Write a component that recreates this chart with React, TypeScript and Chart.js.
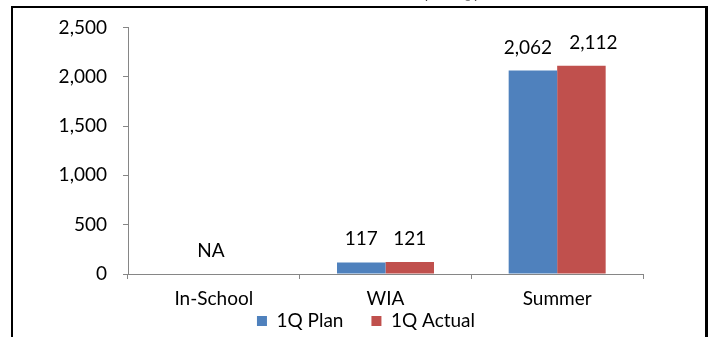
import React, { useEffect, useRef } from "react";
import { Chart, registerables } from "chart.js";

Chart.register(...registerables);

const categories = ["In-School", "WIA", "Summer"];
const planValues: (number | null)[] = [null, 117, 2062];
const actualValues: (number | null)[] = [null, 121, 2112];
const seriesNames = ["1Q Plan", "1Q Actual"];
const missingLabel = "NA";
const yTicks = [0, 500, 1000, 1500, 2000, 2500];

const FONT = "Lato, 'Noto Sans', sans-serif";
const FS = 19;

// horizontal nudges of the value labels (pixels), per dataset, per category
const LABEL_NUDGE: number[][] = [
  [0, 0, -5],
  [0, 0, 12],
];

const valueLabels = {
  id: "valueLabels",
  afterDatasetsDraw(chart: any) {
    const ctx = chart.ctx;
    ctx.save();
    ctx.font = `${FS}px ${FONT}`;
    ctx.fillStyle = "#000";
    ctx.textAlign = "center";
    ctx.textBaseline = "alphabetic";
    const xScale = chart.scales.x;
    const yScale = chart.scales.y;
    chart.data.labels.forEach((_: any, i: number) => {
      const allMissing = chart.data.datasets.every((ds: any) => ds.data[i] == null);
      if (allMissing) {
        ctx.fillText(missingLabel, xScale.getPixelForValue(i) - 3, yScale.getPixelForValue(0) - 17);
      }
    });
    chart.data.datasets.forEach((ds: any, di: number) => {
      const meta = chart.getDatasetMeta(di);
      meta.data.forEach((bar: any, i: number) => {
        const v = ds.data[i];
        if (v == null) return;
        const dx = (LABEL_NUDGE[di] && LABEL_NUDGE[di][i]) || 0;
        ctx.fillText(Number(v).toLocaleString("en-US"), bar.x + dx, bar.y - 17);
      });
    });
    ctx.restore();
  },
};

// Re-places the legend box (below the axis labels, centred like the reference)
const legendPlacer = {
  id: "legendPlacer",
  afterLayout(chart: any) {
    const lg = chart.legend;
    if (!lg) return;
    lg.left = 89;
    lg.right = 643;
    lg.top = 283.5;
    lg.bottom = 337;
    lg.width = lg.right - lg.left;
    lg.height = lg.bottom - lg.top;
  },
};

export default function App() {
  const ref = useRef<HTMLCanvasElement | null>(null);
  useEffect(() => {
    if (!ref.current) return;
    const chart = new Chart(ref.current, {
      type: "bar",
      data: {
        labels: categories,
        datasets: [
          { label: seriesNames[0], data: planValues, backgroundColor: "#4F81BD" },
          { label: seriesNames[1], data: actualValues, backgroundColor: "#C0504D" },
        ],
      },
      options: {
        animation: false,
        responsive: false,
        maintainAspectRatio: false,
        layout: { padding: { top: 24, left: 0, right: 70, bottom: 0 } },
        datasets: { bar: { categoryPercentage: 0.565, barPercentage: 1 } },
        plugins: {
          legend: {
            position: "bottom",
            maxHeight: 28,
            labels: {
              font: { family: FONT, size: FS },
              color: "#000",
              boxWidth: 10,
              boxHeight: 10,
              padding: 28,
            },
          },
          tooltip: { enabled: false },
          title: { display: false },
        },
        scales: {
          x: {
            grid: { display: true, drawOnChartArea: false, drawTicks: true, tickLength: 5, color: "#868686", offset: true },
            border: { color: "#868686" },
            ticks: { font: { family: FONT, size: FS }, color: "#000", padding: 8, maxRotation: 0 },
            afterFit: (s: any) => { s.height = 35; },
          },
          y: {
            min: 0,
            max: 2500,
            afterBuildTicks: (s: any) => { s.ticks = yTicks.map((v) => ({ value: v })); },
            grid: { display: true, drawOnChartArea: false, drawTicks: true, tickLength: 5, color: "#868686" },
            border: { color: "#868686" },
            ticks: {
              font: { family: FONT, size: FS },
              color: "#000",
              padding: 16,
              callback: (v: any) => Number(v).toLocaleString("en-US"),
            },
            afterFit: (s: any) => { s.width = 128; },
          },
        },
      },
      plugins: [valueLabels, legendPlacer],
    });
    return () => chart.destroy();
  }, []);

  return (
    <div style={{ position: "fixed", left: 0, top: 0, width: 713, height: 337, overflow: "hidden", background: "#fff" }}>
      <canvas ref={ref} width={713} height={337} style={{ position: "absolute", left: 0, top: 0, width: 713, height: 337 }} />
      <div
        style={{
          position: "absolute",
          left: 11,
          top: 6,
          width: 697,
          height: 340,
          borderLeft: "2px solid #000",
          borderTop: "2px solid #000",
          borderRight: "3px solid #000",
          boxSizing: "border-box",
          pointerEvents: "none",
        }}
      />
      <div
        style={{
          position: "absolute",
          left: 422,
          top: -24,
          fontFamily: FONT,
          fontWeight: 700,
          fontSize: 24,
          lineHeight: "24px",
          letterSpacing: 4,
          whiteSpace: "nowrap",
        }}
      >
        (1Q)
      </div>
    </div>
  );
}
